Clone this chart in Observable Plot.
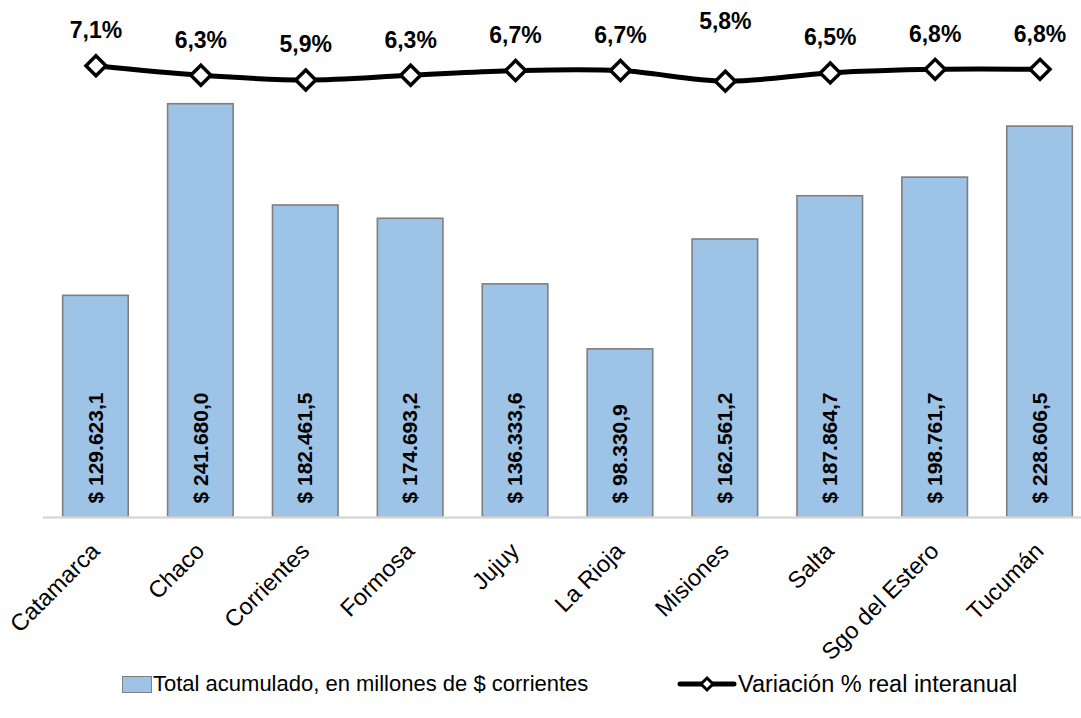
<!DOCTYPE html>
<html>
<head>
<meta charset="utf-8">
<script src="https://cdn.jsdelivr.net/npm/d3@7"></script>
<script src="https://cdn.jsdelivr.net/npm/@observablehq/plot@0.6"></script>
<style>
  body { margin: 0; background: #fff; font-family: "Liberation Sans", Arial, sans-serif; }
  #wrap { position: relative; width: 1081px; height: 718px; overflow: hidden; background: #fff; }
  #wrap svg { position: absolute; left: 0; top: 0; overflow: visible; max-width: none !important; }
  .leg { position: absolute; top: 671px; line-height: 26px; color: #000; white-space: nowrap; display: flex; align-items: center; }
</style>
</head>
<body>
<div id="wrap"></div>
<script>
const provincias = ["Catamarca","Chaco","Corrientes","Formosa","Jujuy","La Rioja","Misiones","Salta","Sgo del Estero","Tucumán"];
const totales = [129623.1, 241680.0, 182461.5, 174693.2, 136333.6, 98330.9, 162561.2, 187864.7, 198761.7, 228606.5];
const variacion = [7.1, 6.3, 5.9, 6.3, 6.7, 6.7, 5.8, 6.5, 6.8, 6.8];
const yDomainBar = [0, 300000];
const yDomainLine = [-31.2, 12.3];

const data = provincias.map((p, i) => ({p, total: totales[i], pct: variacion[i]}));
const loc = d3.formatLocale({decimal: ",", thousands: ".", grouping: [3]});
const fmtMoney = loc.format(",.1f");
const fmtPct = loc.format(".1f");

const W = 1092, H = 660;
const common = {
  width: W, height: H,
  marginLeft: 43, marginRight: 0, marginTop: 4, marginBottom: 143,
  style: {fontFamily: "'Liberation Sans', Arial, sans-serif", background: "transparent", overflow: "visible", maxWidth: "none"}
};
const xOpt = {domain: provincias, paddingInner: 0.375, paddingOuter: 0.1875, align: 0.5, round: false};

const bars = Plot.plot({
  ...common,
  x: {...xOpt, axis: null},
  y: {domain: yDomainBar, axis: null},
  marks: [
    Plot.barY(data, {x: "p", y: "total", fill: "#9DC3E6", stroke: "#7F7F7F", strokeWidth: 1.6}),
    Plot.ruleY([0], {stroke: "#D9D9D9", strokeWidth: 2.5}),
    Plot.text(data, {x: "p", y: () => 0, text: d => "$ " + fmtMoney(d.total), rotate: -90,
      textAnchor: "start", lineAnchor: "middle", dy: -14, fontSize: 21, fontWeight: "bold", fill: "#000"}),
    Plot.text(provincias, {x: d => d, y: () => 0, text: d => d, rotate: -45,
      textAnchor: "end", lineAnchor: "bottom", dx: 5, dy: 35, fontSize: 23.5, fill: "#000"})
  ]
});

const line = Plot.plot({
  ...common,
  x: {...xOpt, axis: null},
  y: {domain: yDomainLine, axis: null},
  marks: [
    Plot.line(data, {x: "p", y: "pct", stroke: "#000", strokeWidth: 5, curve: "catmull-rom"}),
    Plot.dot(data, {x: "p", y: "pct", symbol: "diamond2", r: 9, fill: "#fff", stroke: "#000", strokeWidth: 3.5}),
    Plot.text(data.filter(d => d.p !== "Misiones"), {x: "p", y: "pct", text: d => fmtPct(d.pct) + "%", dy: -35,
      fontSize: 23, fontWeight: "bold", fill: "#000"}),
    Plot.text(data.filter(d => d.p === "Misiones"), {x: "p", y: "pct", text: d => fmtPct(d.pct) + "%", dy: -60,
      fontSize: 23, fontWeight: "bold", fill: "#000"})
  ]
});

const wrap = document.getElementById("wrap");
wrap.appendChild(bars);
wrap.appendChild(line);

const leg1 = document.createElement("div");
leg1.className = "leg";
leg1.style.left = "122px";
leg1.style.fontSize = "22px";
leg1.innerHTML = '<span style="display:inline-block;width:28px;height:15px;background:#9DC3E6;border:1.5px solid #7F7F7F;margin-right:1px"></span>Total acumulado, en millones de $ corrientes';
wrap.appendChild(leg1);

const leg2 = document.createElement("div");
leg2.className = "leg";
leg2.style.left = "677px";
leg2.style.fontSize = "23.5px";
leg2.innerHTML = '<svg width="60" height="20" style="position:static;margin-right:1px"><line x1="3" y1="10" x2="57" y2="10" stroke="#000" stroke-width="5" stroke-linecap="round"/><path d="M30,4 L36,10 L30,16 L24,10 Z" fill="#fff" stroke="#000" stroke-width="3"/></svg>Variación % real interanual';
wrap.appendChild(leg2);
</script>
</body>
</html>
